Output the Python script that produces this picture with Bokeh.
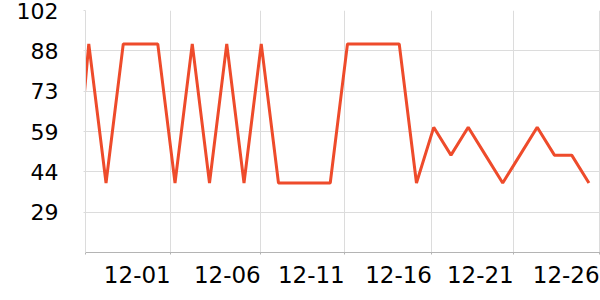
from bokeh.plotting import figure
from bokeh.models import Range1d, FixedTicker, ColumnDataSource
from bokeh.embed import file_html
from bokeh.resources import INLINE

# data: one point per day (first one only partly visible at the left edge)
dates = ["11-25", "11-26", "11-27", "11-28", "11-29", "11-30", "12-01", "12-02",
         "12-03", "12-04", "12-05", "12-06", "12-07", "12-08", "12-09", "12-10",
         "12-11", "12-12", "12-13", "12-14", "12-15", "12-16", "12-17", "12-18",
         "12-19", "12-20", "12-21", "12-22", "12-23", "12-24", "12-25"]
values = [20, 90, 40, 90, 90, 90, 40, 90, 40, 90, 40, 90, 40, 40, 40, 40,
          90, 90, 90, 90, 40, 60, 50, 60, 50, 40, 50, 60, 50, 50, 40]
day_index = [i - 1 for i in range(len(dates))]

x_tick_pos = [4.75, 9.97, 14.84, 19.9, 24.64, 29.62]
x_tick_labels = ["12-01", "12-06", "12-11", "12-16", "12-21", "12-26"]
y_tick_pos = [29.5, 44, 58.5, 73, 87.5, 102]
y_tick_labels = ["29", "44", "59", "73", "88", "102"]

FONT = "DejaVu Sans"
LINE_COLOR = "#ee4b2b"

x0, x1 = -0.19, 29.67
y0, y1 = 15, 102

p = figure(width=600, height=300, output_backend="svg", toolbar_location=None,
           x_range=Range1d(x0, x1), y_range=Range1d(y0, y1))
p.min_border_left = 85
p.min_border_right = 0
p.min_border_top = 10
p.min_border_bottom = 48
p.outline_line_color = None
p.background_fill_color = "white"
p.border_fill_color = "white"

src = ColumnDataSource(dict(x=day_index, y=values))
p.line("x", "y", source=src, line_color=LINE_COLOR, line_width=3)

# x axis: labels right-aligned to their tick (tiny angle -> right alignment)
xax = p.xaxis[0]
xax.ticker = FixedTicker(ticks=[x0] + x_tick_pos)
overrides = {x0: ""}
overrides.update({t: l for t, l in zip(x_tick_pos, x_tick_labels)})
xax.major_label_overrides = overrides
xax.major_label_orientation = 1e-6
xax.major_label_text_font = FONT
xax.major_label_text_font_size = "23px"
xax.major_label_text_color = "black"
xax.major_label_standoff = 20
xax.axis_line_color = "#b4b4b4"
xax.major_tick_line_color = "#b4b4b4"
xax.major_tick_in = 0
xax.major_tick_out = 2
xax.minor_tick_line_color = None

# y axis
yax = p.yaxis[0]
yax.ticker = FixedTicker(ticks=y_tick_pos)
yax.major_label_overrides = {t: l for t, l in zip(y_tick_pos, y_tick_labels)}
yax.major_label_text_font = FONT
yax.major_label_text_font_size = "22px"
yax.major_label_text_color = "black"
yax.major_label_standoff = 25
yax.axis_line_color = "#dcdcdc"
yax.major_tick_line_color = "#dcdcdc"
yax.major_tick_in = 0
yax.major_tick_out = 2
yax.minor_tick_line_color = None

p.xgrid[0].ticker = FixedTicker(ticks=x_tick_pos)
p.ygrid[0].ticker = FixedTicker(ticks=y_tick_pos)
p.xgrid[0].grid_line_color = "#dcdcdc"
p.ygrid[0].grid_line_color = "#dcdcdc"

open("out.html", "w").write(file_html(p, INLINE))
